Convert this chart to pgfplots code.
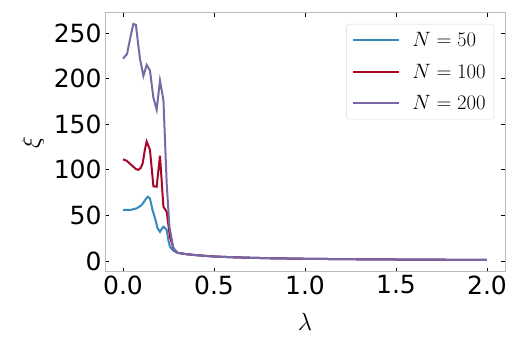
\documentclass[border=0pt]{standalone}
\usepackage{fontspec}
\setmainfont{DejaVu Sans}
\usepackage{pgfplots}
\pgfplotsset{compat=1.18}

\definecolor{bmhblue}{HTML}{348ABD}
\definecolor{bmhred}{HTML}{A60628}
\definecolor{bmhpurple}{HTML}{7A68A6}
\definecolor{framegray}{HTML}{BCBCBC}

\begin{document}
\begin{tikzpicture}
\useasboundingbox (0,0) rectangle (521pt,347pt);
\begin{axis}[
    at={(105pt,75pt)}, anchor=south west,
    scale only axis,
    width=400pt, height=259pt,
    xmin=-0.099, xmax=2.099,
    ymin=-12, ymax=272,
    xtick={0,0.5,1,1.5,2},
    ytick={0,50,100,150,200,250},
    xticklabel style={/pgf/number format/.cd, fixed, fixed zerofill, precision=1},
    /pgf/number format/assume math mode=true,
    ticklabel style={font=\fontsize{25}{28}\selectfont},
    tick align=inside,
    major tick length=4pt,
    tick style={black, line width=0.8pt},
    axis line style={framegray, line width=1pt},
    xlabel={$\lambda$},
    ylabel={$\xi$},
    label style={font=\fontsize{24}{28}\selectfont},
    xlabel style={at={(rel axis cs:0.5,0)}, anchor=center, yshift=-50pt},
    ylabel style={at={(rel axis cs:0,0.5)}, anchor=center, yshift=72pt},
    legend cell align=left,
    legend style={at={(rel axis cs:1,1)}, anchor=north east, xshift=-11pt, yshift=-11pt,
        draw=framegray!60, rounded corners=3pt, fill=white,
        font=\fontsize{21}{26}\selectfont, row sep=12pt, inner sep=6pt},
    legend image code/.code={\draw[#1, line width=2pt] (0pt,0pt) -- (46pt,0pt);},
    every axis plot/.append style={line width=2pt},
]
\addplot[bmhblue] coordinates {
  (0,56) (0.04,56) (0.075,57.8) (0.1,61) (0.112,64) (0.125,68) (0.136,70.5) (0.148,68.7)
  (0.162,56) (0.176,46.8) (0.19,36) (0.203,32) (0.212,35) (0.222,37.6) (0.232,36) (0.24,34)
  (0.25,22) (0.258,15.7) (0.277,11.3) (0.3,9) (0.35,7.5) (0.4,6.5) (0.5,5) (0.6,4.2)
  (0.7,3.6) (0.8,3.1) (0.9,2.8) (1.0,2.5) (1.2,2.1) (1.4,1.8) (1.6,1.6) (1.8,1.4) (2.0,1.3)
};
\addlegendentry{\hspace{10pt}$N=50$}
\addplot[bmhred] coordinates {
  (0,111.5) (0.02,110) (0.048,105) (0.07,101) (0.084,100) (0.097,102) (0.108,107) (0.12,122)
  (0.13,131) (0.148,122) (0.167,82) (0.185,81.5) (0.203,115.5) (0.222,59.6) (0.24,54)
  (0.258,26.6) (0.277,14) (0.3,9) (0.35,7.5) (0.4,6.5) (0.5,5) (0.6,4.2)
  (0.7,3.6) (0.8,3.1) (0.9,2.8) (1.0,2.5) (1.2,2.1) (1.4,1.8) (1.6,1.6) (1.8,1.4) (2.0,1.3)
};
\addlegendentry{\hspace{10pt}$N=100$}
\addplot[bmhpurple] coordinates {
  (0,222) (0.022,227) (0.04,245) (0.057,260) (0.071,259) (0.082,240) (0.093,222) (0.112,203)
  (0.13,215) (0.148,209) (0.167,179) (0.185,166) (0.203,198) (0.222,176.5) (0.24,85)
  (0.255,37.6) (0.277,14) (0.3,9) (0.35,7.5) (0.4,6.5) (0.5,5) (0.6,4.2)
  (0.7,3.6) (0.8,3.1) (0.9,2.8) (1.0,2.5) (1.2,2.1) (1.4,1.8) (1.6,1.6) (1.8,1.4) (2.0,1.3)
};
\addlegendentry{\hspace{10pt}$N=200$}
\end{axis}
\end{tikzpicture}
\end{document}
